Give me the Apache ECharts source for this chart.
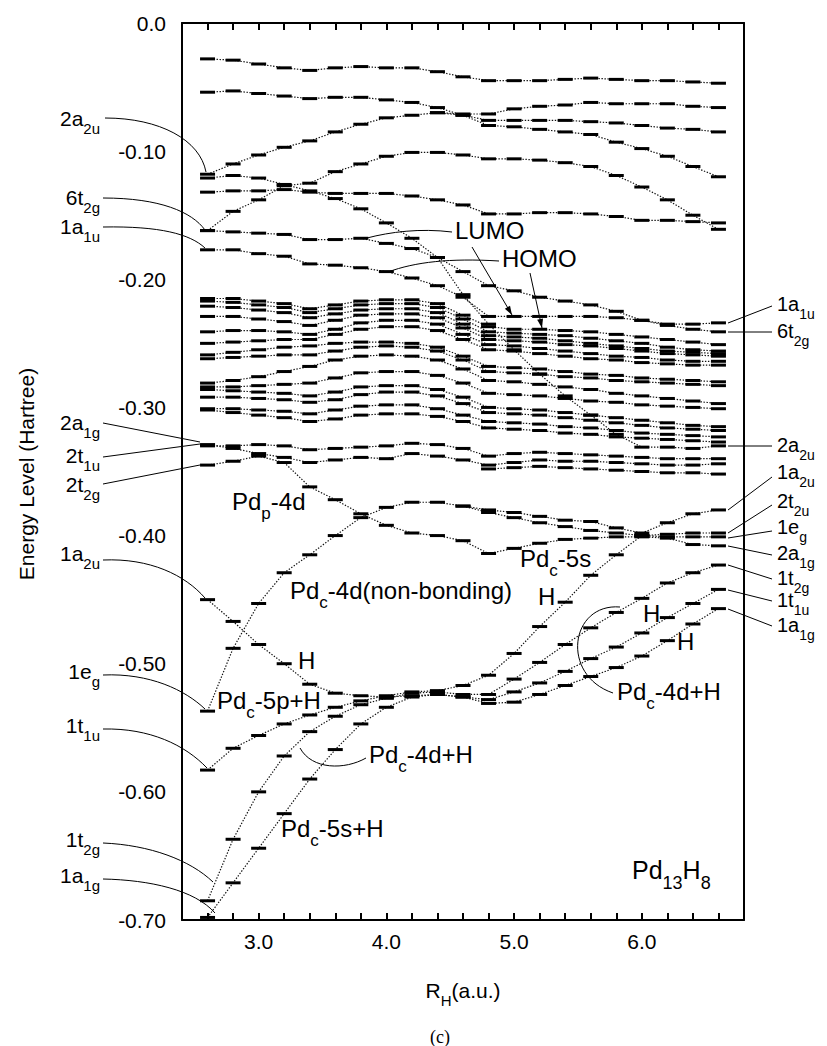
<!DOCTYPE html>
<html lang="en">
<head>
<meta charset="UTF-8">
<title>Pd13H8 energy levels vs R_H</title>
<script src="https://cdn.jsdelivr.net/npm/echarts@6.0.0/dist/echarts.min.js"></script>
<style>
  html, body { margin: 0; padding: 0; background: #fff; }
  #chart { width: 827px; height: 1046px; }
</style>
</head>
<body>
<div id="chart"></div>
<script>
// R_H grid (a.u.)
const R = [2.6, 2.8, 3.0, 3.2, 3.4, 3.6, 3.8, 4.0, 4.2, 4.4, 4.6, 4.8, 5.0, 5.2, 5.4, 5.6, 5.8, 6.0, 6.2, 6.4, 6.6];

// upper levels (Hartree)
const top1    = [-0.028,-0.029,-0.032,-0.035,-0.037,-0.035,-0.034,-0.035,-0.035,-0.038,-0.042,-0.045,-0.045,-0.045,-0.044,-0.043,-0.044,-0.045,-0.045,-0.046,-0.047];
const top2    = [-0.054,-0.053,-0.055,-0.057,-0.059,-0.058,-0.058,-0.060,-0.062,-0.066,-0.072,-0.080,-0.081,-0.083,-0.085,-0.087,-0.093,-0.098,-0.104,-0.112,-0.120];
const a2uRise = [-0.118,-0.110,-0.103,-0.097,-0.092,-0.085,-0.079,-0.074,-0.072,-0.070,-0.072,-0.076,-0.076,-0.076,-0.076,-0.077,-0.078,-0.080,-0.082,-0.083,-0.085];
const top4    = [null,null,null,null,null,null,null,null,null,-0.070,-0.071,-0.071,-0.067,-0.065,-0.064,-0.062,-0.063,-0.063,-0.063,-0.065,-0.066];
const t2gRise = [-0.162,-0.147,-0.138,-0.127,-0.125,-0.116,-0.110,-0.104,-0.101,-0.101,-0.103,-0.106,-0.106,-0.107,-0.109,-0.112,-0.119,-0.128,-0.138,-0.150,-0.161];
const mid1    = [-0.132,-0.131,-0.131,-0.130,-0.132,-0.133,-0.133,-0.133,-0.135,-0.138,-0.142,-0.149,-0.149,-0.148,-0.148,-0.149,-0.151,-0.154,-0.154,-0.155,-0.156];
const a2uFall = [-0.121,-0.119,-0.121,-0.126,-0.131,-0.137,-0.145,-0.156,-0.168,-0.183,-0.212,-0.235,-0.255,-0.274,-0.291,-0.306,-0.321,-0.331,-0.331,-0.332,-0.330];
const t2gFlat = [-0.162,-0.163,-0.164,-0.165,-0.169,-0.169,-0.168,-0.172,-0.176,-0.183,-0.194,-0.205,-0.209,-0.214,-0.217,-0.220,-0.225,-0.232,-0.235,-0.235,-0.234];
const a1uLine = [-0.177,-0.177,-0.180,-0.182,-0.188,-0.189,-0.191,-0.194,-0.199,-0.205,-0.214,-0.229,-0.229,-0.229,-0.229,-0.229,-0.230,-0.232,-0.236,-0.239,-0.241];

// dense Pd 4d band
const b1  = [-0.215,-0.215,-0.217,-0.219,-0.223,-0.220,-0.217,-0.216,-0.216,-0.219,-0.228,-0.237,-0.239,-0.239,-0.240,-0.241,-0.243,-0.245,-0.247,-0.249,-0.251];
const b2  = [-0.217,-0.218,-0.220,-0.222,-0.226,-0.223,-0.220,-0.219,-0.219,-0.222,-0.231,-0.241,-0.242,-0.243,-0.244,-0.246,-0.248,-0.250,-0.253,-0.255,-0.256];
const b3  = [-0.221,-0.222,-0.224,-0.226,-0.230,-0.227,-0.224,-0.223,-0.223,-0.226,-0.235,-0.244,-0.245,-0.246,-0.248,-0.250,-0.252,-0.254,-0.256,-0.257,-0.258];
const b4  = [-0.229,-0.229,-0.231,-0.233,-0.236,-0.232,-0.228,-0.227,-0.227,-0.230,-0.238,-0.247,-0.248,-0.249,-0.251,-0.252,-0.254,-0.256,-0.258,-0.259,-0.260];
const b5  = [-0.241,-0.240,-0.240,-0.241,-0.243,-0.239,-0.234,-0.232,-0.232,-0.235,-0.243,-0.251,-0.252,-0.254,-0.256,-0.258,-0.260,-0.261,-0.263,-0.264,-0.264];
const b6  = [-0.250,-0.249,-0.248,-0.247,-0.247,-0.243,-0.239,-0.237,-0.237,-0.240,-0.247,-0.255,-0.256,-0.258,-0.260,-0.262,-0.263,-0.265,-0.266,-0.267,-0.267];
const b7  = [-0.259,-0.257,-0.255,-0.253,-0.252,-0.250,-0.249,-0.249,-0.250,-0.253,-0.260,-0.268,-0.269,-0.270,-0.272,-0.274,-0.275,-0.277,-0.278,-0.279,-0.280];
const b8  = [-0.262,-0.261,-0.260,-0.259,-0.259,-0.256,-0.253,-0.252,-0.253,-0.256,-0.263,-0.272,-0.273,-0.274,-0.276,-0.277,-0.279,-0.280,-0.281,-0.282,-0.283];
const b9  = [-0.281,-0.279,-0.276,-0.272,-0.268,-0.263,-0.260,-0.259,-0.260,-0.263,-0.270,-0.279,-0.280,-0.282,-0.284,-0.286,-0.289,-0.291,-0.293,-0.295,-0.297];
const b10 = [-0.284,-0.284,-0.283,-0.282,-0.281,-0.277,-0.273,-0.272,-0.272,-0.275,-0.281,-0.289,-0.290,-0.291,-0.293,-0.295,-0.296,-0.298,-0.299,-0.300,-0.301];
const b11 = [-0.286,-0.287,-0.288,-0.289,-0.291,-0.288,-0.284,-0.283,-0.283,-0.286,-0.292,-0.300,-0.301,-0.302,-0.304,-0.306,-0.308,-0.310,-0.312,-0.314,-0.315];
const b12 = [-0.292,-0.292,-0.293,-0.294,-0.296,-0.294,-0.290,-0.288,-0.288,-0.291,-0.297,-0.304,-0.305,-0.306,-0.308,-0.310,-0.312,-0.314,-0.316,-0.317,-0.318];
const b13 = [-0.301,-0.301,-0.302,-0.303,-0.305,-0.302,-0.299,-0.298,-0.298,-0.301,-0.306,-0.311,-0.312,-0.313,-0.315,-0.316,-0.318,-0.320,-0.321,-0.322,-0.323];
const b14 = [-0.302,-0.304,-0.306,-0.308,-0.311,-0.309,-0.306,-0.305,-0.305,-0.307,-0.311,-0.316,-0.317,-0.318,-0.320,-0.321,-0.323,-0.324,-0.325,-0.326,-0.327];

// 2a1g / 2t1u / 2t2g and lower levels
const a1gMid  = [-0.329,-0.332,-0.336,-0.339,-0.343,-0.341,-0.339,-0.340,-0.336,-0.338,-0.341,-0.345,-0.343,-0.341,-0.342,-0.342,-0.343,-0.344,-0.345,-0.345,-0.344];
const t1uMid  = [-0.330,-0.330,-0.329,-0.330,-0.333,-0.332,-0.331,-0.330,-0.328,-0.329,-0.332,-0.338,-0.336,-0.335,-0.336,-0.337,-0.338,-0.339,-0.340,-0.340,-0.340];
const lowBand = [null,null,null,null,null,null,null,null,null,null,null,-0.348,-0.347,-0.346,-0.347,-0.348,-0.349,-0.350,-0.351,-0.351,-0.352];
const t2gFall = [-0.345,-0.342,-0.338,-0.343,-0.362,-0.372,-0.383,-0.392,-0.398,-0.400,-0.404,-0.414,-0.410,-0.406,-0.403,-0.402,-0.401,-0.401,-0.402,-0.407,-0.408];
const egRise  = [-0.537,-0.488,-0.453,-0.429,-0.415,-0.400,-0.386,-0.378,-0.374,-0.374,-0.377,-0.380,-0.382,-0.385,-0.388,-0.389,-0.394,-0.398,-0.390,-0.383,-0.380];
const egRight = [null,null,null,null,null,null,null,null,null,null,-0.377,-0.382,-0.386,-0.390,-0.393,-0.396,-0.398,-0.400,-0.401,-0.401,-0.401];
const t1uLine = [-0.583,-0.566,-0.556,-0.547,-0.540,-0.534,-0.529,-0.525,-0.522,-0.521,-0.517,-0.509,-0.492,-0.471,-0.452,-0.431,-0.415,-0.400,-0.399,-0.398,-0.398];
const a2uLow  = [-0.450,-0.467,-0.485,-0.500,-0.516,-0.523,-0.525,-0.526,-0.525,-0.524,-0.526,-0.528,-0.522,-0.515,-0.506,-0.496,-0.487,-0.476,-0.464,-0.453,-0.442];
const t2gLow  = [-0.685,-0.637,-0.600,-0.572,-0.553,-0.541,-0.532,-0.527,-0.523,-0.522,-0.524,-0.524,-0.512,-0.499,-0.485,-0.472,-0.460,-0.449,-0.437,-0.429,-0.423];
const a1gLow  = [-0.698,-0.671,-0.644,-0.617,-0.590,-0.567,-0.547,-0.534,-0.526,-0.524,-0.526,-0.531,-0.530,-0.524,-0.517,-0.510,-0.503,-0.494,-0.482,-0.469,-0.457];

const levels = [top1, top2, a2uRise, top4, t2gRise, mid1, a2uFall, t2gFlat, a1uLine,
  b1, b2, b3, b4, b5, b6, b7, b8, b9, b10, b11, b12, b13, b14,
  a1gMid, t1uMid, lowBand, t2gFall, egRise, egRight, t1uLine, a2uLow, t2gLow, a1gLow];

const yTicks = [0, -0.1, -0.2, -0.3, -0.4, -0.5, -0.6, -0.7];

const FF = "'Liberation Sans', Arial, Helvetica, sans-serif";
const chart = echarts.init(document.getElementById('chart'), null, { renderer: 'svg' });

function levelSeries(vals) {
  const pts = [];
  vals.forEach(function (v, i) { if (v !== null) pts.push([R[i], v]); });
  return {
    type: 'line',
    data: pts,
    symbol: 'rect',
    symbolSize: [15, 3],
    showAllSymbol: true,
    itemStyle: { color: '#000' },
    lineStyle: { color: '#111', width: 1.2, type: [1.4, 1.6] },
    silent: true,
    z: 3
  };
}

function richStyle(size) {
  return {
    n: { fontSize: size, fontFamily: FF, lineHeight: size + 4, verticalAlign: 'top', fill: '#000' },
    s: { fontSize: Math.round(size * 0.72), fontFamily: FF, lineHeight: size * 2, verticalAlign: 'middle', fill: '#000' }
  };
}
function label(x, yc, text, size, align) {
  return {
    type: 'text', x: x, y: yc - (size + 4) / 2, silent: true, z: 10,
    style: { text: text, rich: richStyle(size), align: align || 'left', verticalAlign: 'top', fill: '#000', font: size + 'px ' + FF }
  };
}
function curve(p0, c1, c2, p3) {
  return { type: 'bezierCurve', silent: true, z: 9,
    shape: { x1: p0[0], y1: p0[1], cpx1: c1[0], cpy1: c1[1], cpx2: c2[0], cpy2: c2[1], x2: p3[0], y2: p3[1] },
    style: { stroke: '#000', lineWidth: 1, fill: null } };
}
function seg(a, b) {
  return { type: 'line', silent: true, z: 9, shape: { x1: a[0], y1: a[1], x2: b[0], y2: b[1] },
    style: { stroke: '#000', lineWidth: 1 } };
}
function arrow(a, b) {
  const dx = b[0] - a[0], dy = b[1] - a[1], len = Math.sqrt(dx * dx + dy * dy);
  const ux = dx / len, uy = dy / len, bx = b[0] - 9 * ux, by = b[1] - 9 * uy;
  return [seg(a, b), { type: 'polygon', silent: true, z: 9,
    shape: { points: [b, [bx - 3 * uy, by + 3 * ux], [bx + 3 * uy, by - 3 * ux]] },
    style: { fill: '#000' } }];
}

const LS = 21, RS = 20, AS = 24;
const graphics = [
  // left labels
  label(100, 120, '{n|2a}{s|2u}', LS, 'right'),
  label(100, 199, '{n|6t}{s|2g}', LS, 'right'),
  label(100, 228, '{n|1a}{s|1u}', LS, 'right'),
  label(100, 424, '{n|2a}{s|1g}', LS, 'right'),
  label(100, 457, '{n|2t}{s|1u}', LS, 'right'),
  label(100, 486, '{n|2t}{s|2g}', LS, 'right'),
  label(100, 555, '{n|1a}{s|2u}', LS, 'right'),
  label(100, 673, '{n|1e}{s|g}', LS, 'right'),
  label(100, 727, '{n|1t}{s|1u}', LS, 'right'),
  label(100, 841, '{n|1t}{s|2g}', LS, 'right'),
  label(100, 877, '{n|1a}{s|1g}', LS, 'right'),
  curve([105, 118], [160, 118], [200, 140], [206, 172]),
  curve([103, 198], [160, 198], [192, 212], [205, 230]),
  curve([103, 227], [160, 226], [190, 234], [205, 248]),
  seg([103, 423], [200, 442]),
  seg([103, 457], [200, 444]),
  seg([103, 484], [200, 465]),
  curve([103, 560], [150, 558], [185, 575], [205, 598]),
  curve([103, 675], [150, 673], [185, 690], [205, 709]),
  curve([103, 729], [150, 728], [185, 745], [207, 768]),
  curve([103, 843], [150, 845], [190, 860], [213, 882]),
  curve([103, 879], [150, 880], [195, 890], [215, 913]),
  // right labels
  label(777, 306, '{n|1a}{s|1u}', RS),
  label(777, 333, '{n|6t}{s|2g}', RS),
  label(777, 447, '{n|2a}{s|2u}', RS),
  label(777, 474, '{n|1a}{s|2u}', RS),
  label(777, 503, '{n|2t}{s|2u}', RS),
  label(777, 529, '{n|1e}{s|g}', RS),
  label(777, 555, '{n|2a}{s|1g}', RS),
  label(777, 580, '{n|1t}{s|2g}', RS),
  label(777, 602, '{n|1t}{s|1u}', RS),
  label(777, 627, '{n|1a}{s|1g}', RS),
  seg([728, 323], [772, 306]),
  seg([728, 332], [772, 332]),
  seg([728, 446], [772, 446]),
  seg([728, 510], [772, 477]),
  seg([728, 533], [772, 505]),
  seg([728, 538], [772, 531]),
  seg([728, 546], [772, 555]),
  seg([728, 565], [772, 579]),
  seg([728, 590], [772, 601]),
  seg([728, 609], [772, 626]),
  // annotations
  label(455, 232, '{n|LUMO}', AS),
  label(502, 260, '{n|HOMO}', AS),
  curve([452, 232], [420, 228], [390, 232], [367, 238]),
  curve([499, 261], [450, 258], [415, 262], [388, 272]),
  label(232, 503, '{n|Pd}{s|p}{n|-4d}', AS),
  label(290, 592, '{n|Pd}{s|c}{n|-4d(non-bonding)}', AS),
  label(298, 662, '{n|H}', AS),
  label(217, 702, '{n|Pd}{s|c}{n|-5p+H}', AS),
  label(520, 560, '{n|Pd}{s|c}{n|-5s}', AS),
  label(538, 598, '{n|H}', AS),
  label(643, 615, '{n|H}', AS),
  label(677, 643, '{n|H}', AS),
  label(617, 693, '{n|Pd}{s|c}{n|-4d+H}', AS),
  curve([620, 607], [570, 603], [560, 675], [613, 693]),
  label(369, 756, '{n|Pd}{s|c}{n|-4d+H}', AS),
  curve([300, 748], [312, 770], [345, 770], [366, 758]),
  label(281, 830, '{n|Pd}{s|c}{n|-5s+H}', AS),
  label(632, 872, '{n|Pd}{s|13}{n|H}{s|8}', 25),
  // axis names and panel tag
  label(463, 992, '{n|R}{s|H}{n|(a.u.)}', 21, 'center'),
  { type: 'text', x: 26, y: 474, rotation: Math.PI / 2, silent: true,
    style: { text: 'Energy Level (Hartree)', font: '21px ' + FF, fill: '#000', align: 'center', verticalAlign: 'middle' } },
  { type: 'text', x: 440, y: 1037, silent: true,
    style: { text: '(c)', font: "18px 'Liberation Serif', 'Times New Roman', serif", fill: '#000', align: 'center', verticalAlign: 'middle' } }
].concat(arrow([472, 247], [512, 315])).concat(arrow([530, 273], [542, 328]));

const frameLine = { show: true, onZero: false, lineStyle: { color: '#000', width: 2 } };

chart.setOption({
  animation: false,
  backgroundColor: '#fff',
  grid: { left: 182, right: 83, top: 23, bottom: 126, containLabel: false },
  xAxis: [{
    type: 'value', min: 2.4, max: 6.8, interval: 0.2, position: 'bottom',
    axisLine: frameLine,
    axisTick: { show: true, inside: true, length: 7, lineStyle: { color: '#000', width: 2 } },
    axisLabel: {
      color: '#000', fontSize: 21, fontFamily: FF, margin: 11,
      formatter: function (v) { return Math.abs(v - Math.round(v)) < 1e-6 ? v.toFixed(1) : ''; }
    },
    splitLine: { show: false }
  }, {
    type: 'value', min: 2.4, max: 6.8, interval: 0.2, position: 'top',
    axisLine: frameLine,
    axisTick: { show: true, inside: true, length: 7, lineStyle: { color: '#000', width: 2 } },
    axisLabel: { show: false },
    splitLine: { show: false }
  }],
  yAxis: [{
    type: 'value', min: -0.7, max: 0, interval: 0.1, position: 'left',
    axisLine: frameLine,
    axisTick: { show: false },
    axisLabel: {
      color: '#000', fontSize: 21, fontFamily: FF, margin: 16,
      formatter: function (v) {
        const hit = yTicks.find(function (t) { return Math.abs(t - v) < 1e-6; });
        if (hit === undefined) return '';
        return hit === 0 ? '0.0' : hit.toFixed(2);
      }
    },
    splitLine: { show: false }
  }, {
    type: 'value', min: -0.7, max: 0, interval: 0.1, position: 'right',
    axisLine: frameLine, axisTick: { show: false }, axisLabel: { show: false }, splitLine: { show: false }
  }],
  series: levels.map(levelSeries),
  graphic: graphics
});
</script>
</body>
</html>
